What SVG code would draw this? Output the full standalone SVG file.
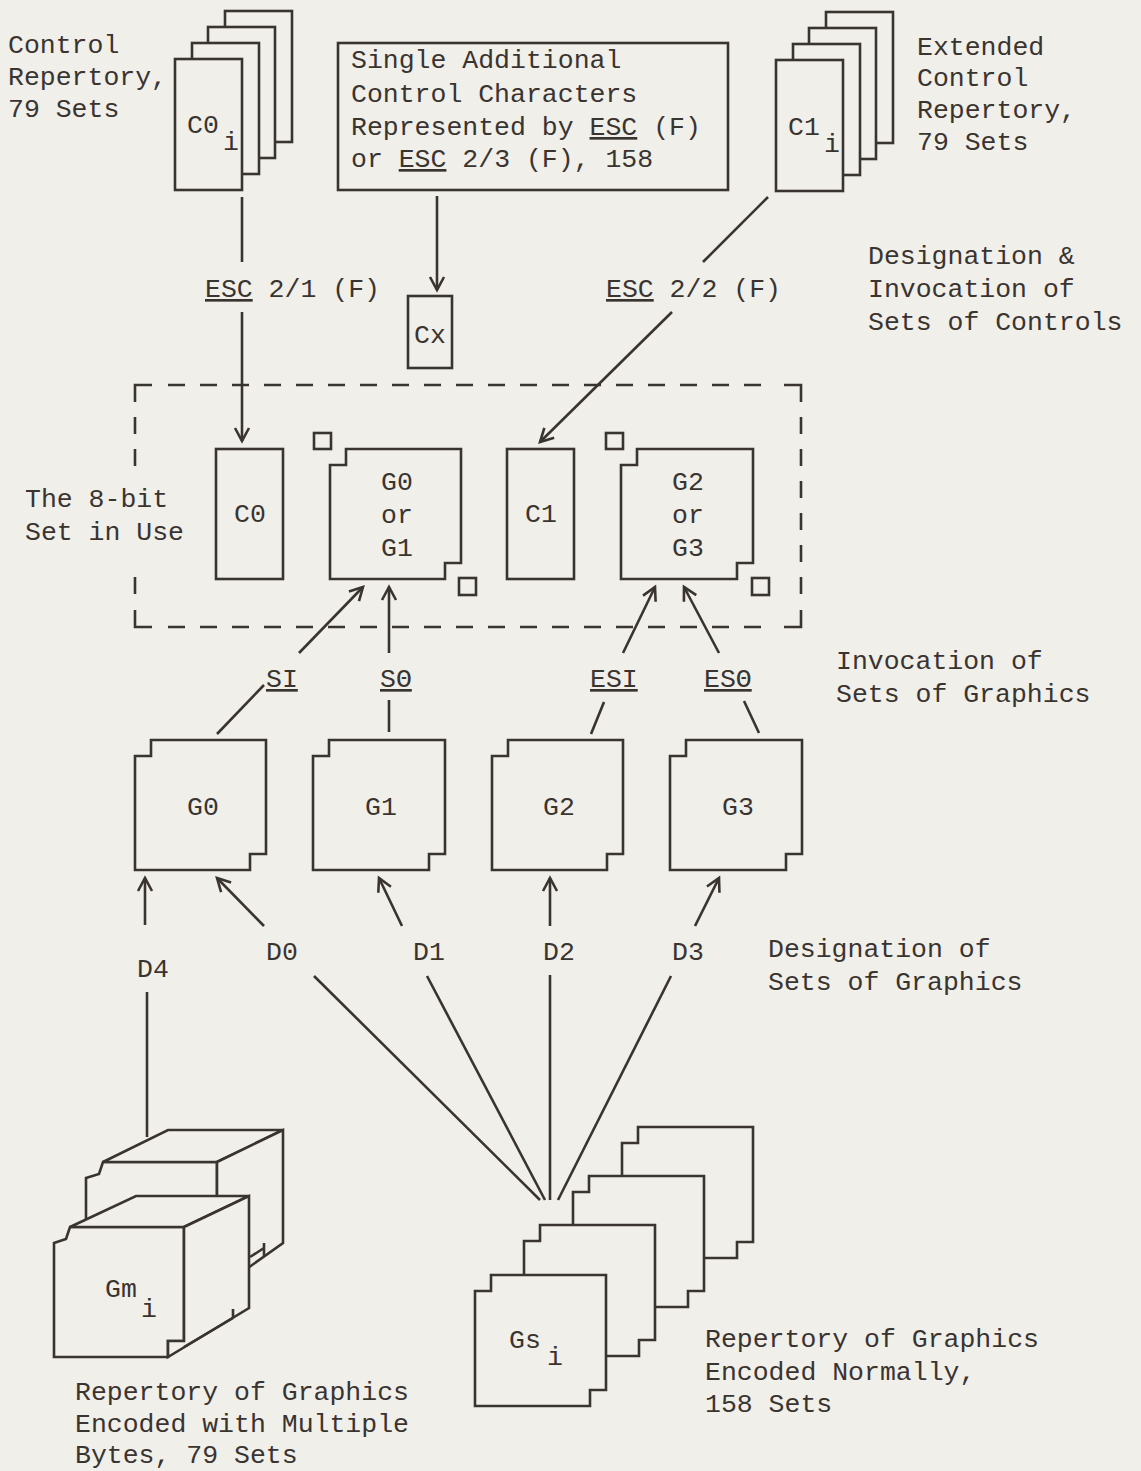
<svg xmlns="http://www.w3.org/2000/svg" width="1141" height="1471" viewBox="0 0 1141 1471">
<style>
.t{font-family:"Liberation Mono","DejaVu Sans Mono",monospace;font-size:26.5px;fill:#3a3431}
.m{text-anchor:middle}
.u{text-decoration:underline}
.b{fill:#f0efe9;stroke:#3a3431;stroke-width:2.6;stroke-linejoin:miter}
.l{fill:none;stroke:#3a3431;stroke-width:2.6}
.d{fill:none;stroke:#3a3431;stroke-width:2.6;stroke-dasharray:17 15}
</style>
<defs>
<marker id="ah" markerUnits="userSpaceOnUse" markerWidth="20" markerHeight="20" refX="13" refY="8" orient="auto" overflow="visible">
<path d="M0,1 L13,8 L0,15" fill="none" stroke="#3a3431" stroke-width="2.6"/>
</marker>
</defs>
<rect width="1141" height="1471" fill="#f0efe9"/>

<g id="c0-repertory">
<rect class="b" x="225" y="11" width="67" height="131"/>
<rect class="b" x="208" y="27" width="67" height="131"/>
<rect class="b" x="192" y="43" width="67" height="131"/>
<rect class="b" x="175" y="59" width="67" height="131"/>
<text class="t" x="187" y="133">C0<tspan x="223" y="150">i</tspan></text>
<text class="t" x="8" y="53">Control</text>
<text class="t" x="8" y="85">Repertory,</text>
<text class="t" x="8" y="117">79 Sets</text>
</g>

<g id="single-additional">
<rect class="b" x="338" y="43" width="390" height="147"/>
<text class="t" x="351" y="68">Single Additional</text>
<text class="t" x="351" y="102">Control Characters</text>
<text class="t" x="351" y="135">Represented by <tspan class="u">ESC</tspan> (F)</text>
<text class="t" x="351" y="167">or <tspan class="u">ESC</tspan> 2/3 (F), 158</text>
</g>

<g id="c1-repertory">
<rect class="b" x="826" y="12" width="67" height="131"/>
<rect class="b" x="809" y="28" width="67" height="131"/>
<rect class="b" x="793" y="44" width="67" height="131"/>
<rect class="b" x="776" y="60" width="67" height="131"/>
<text class="t" x="788" y="135">C1<tspan x="824" y="152">i</tspan></text>
<text class="t" x="917" y="55">Extended</text>
<text class="t" x="917" y="86">Control</text>
<text class="t" x="917" y="118">Repertory,</text>
<text class="t" x="917" y="150">79 Sets</text>
</g>

<g id="label-controls">
<text class="t" x="868" y="264">Designation &amp;</text>
<text class="t" x="868" y="297">Invocation of</text>
<text class="t" x="868" y="330">Sets of Controls</text>
</g>

<g id="cx">
<rect class="b" x="408" y="296" width="44" height="72"/>
<text class="t m" x="430" y="343">Cx</text>
</g>

<g id="set-in-use">
<path class="l" d="M135,402 V385 H152 M784,385 H801 V402 M801,610 V627 H784 M152,627 H135 V610"/>
<path class="d" d="M168,385 H772 M801,417 V598 M168,627 H772 M135,417 V470 M135,577 V598"/>
<text class="t" x="25" y="507">The 8-bit</text>
<text class="t" x="25" y="540">Set in Use</text>
</g>

<g id="c0">
<rect class="b" x="216" y="449" width="67" height="130"/>
<text class="t m" x="250" y="522">C0</text>
</g>

<g id="g0-or-g1">
<path class="b" d="M346,449 H461 V563 H445 V579 H330 V465 H346 Z"/>
<rect class="b" x="314" y="433" width="17" height="16"/>
<rect class="b" x="459" y="578" width="17" height="17"/>
<text class="t m" x="397" y="490">G0</text>
<text class="t m" x="397" y="523">or</text>
<text class="t m" x="397" y="556">G1</text>
</g>

<g id="c1">
<rect class="b" x="507" y="449" width="67" height="130"/>
<text class="t m" x="541" y="522">C1</text>
</g>

<g id="g2-or-g3">
<path class="b" d="M637,449 H753 V563 H737 V579 H621 V465 H637 Z"/>
<rect class="b" x="606" y="433" width="17" height="16"/>
<rect class="b" x="752" y="578" width="17" height="17"/>
<text class="t m" x="688" y="490">G2</text>
<text class="t m" x="688" y="523">or</text>
<text class="t m" x="688" y="556">G3</text>
</g>

<g id="label-invocation">
<text class="t" x="836" y="669">Invocation of</text>
<text class="t" x="836" y="702">Sets of Graphics</text>
</g>

<g id="g0">
<path class="b" d="M151,740 H266 V854 H250 V870 H135 V756 H151 Z"/>
<text class="t m" x="203" y="815">G0</text>
</g>
<g id="g1">
<path class="b" d="M329,740 H445 V854 H429 V870 H313 V756 H329 Z"/>
<text class="t m" x="381" y="815">G1</text>
</g>
<g id="g2">
<path class="b" d="M508,740 H623 V854 H607 V870 H492 V756 H508 Z"/>
<text class="t m" x="559" y="815">G2</text>
</g>
<g id="g3">
<path class="b" d="M686,740 H802 V854 H786 V870 H670 V756 H686 Z"/>
<text class="t m" x="738" y="815">G3</text>
</g>

<g id="label-designation">
<text class="t" x="768" y="957">Designation of</text>
<text class="t" x="768" y="990">Sets of Graphics</text>
</g>

<g id="gm-repertory">
<path class="b" d="M103,1162 H217 V1290 H86 V1178 L99,1174 Z"/>
<path class="b" d="M103,1162 L168,1130 H283 L217,1162 Z"/>
<path class="b" d="M217,1162 L283,1130 V1243 L217,1290 Z"/>
<path class="l" d="M250,1257 L264,1248 M264,1243 V1256"/>
<path class="b" d="M70,1227 H184 V1341 H168 V1357 H54 V1243 L66,1239 Z"/>
<path class="b" d="M70,1227 L136,1196 H249 L184,1227 Z"/>
<path class="b" d="M184,1227 L249,1196 V1308 L168,1357 V1341 H184 Z"/>
<path class="l" d="M184,1347 L233,1318 M233,1309 V1318"/>
<text class="t" x="105" y="1297">Gm<tspan x="141" y="1317">i</tspan></text>
<text class="t" x="75" y="1400">Repertory of Graphics</text>
<text class="t" x="75" y="1432">Encoded with Multiple</text>
<text class="t" x="75" y="1463">Bytes, 79 Sets</text>
</g>

<g id="gs-repertory">
<path class="b" d="M638,1127 H753 V1242 H737 V1258 H622 V1143 H638 Z"/>
<path class="b" d="M589,1176 H704 V1291 H688 V1307 H573 V1192 H589 Z"/>
<path class="b" d="M540,1225 H655 V1340 H639 V1356 H524 V1241 H540 Z"/>
<path class="b" d="M491,1275 H606 V1390 H590 V1406 H475 V1291 H491 Z"/>
<text class="t" x="509" y="1348">Gs<tspan x="547" y="1365">i</tspan></text>
<text class="t" x="705" y="1347">Repertory of Graphics</text>
<text class="t" x="705" y="1380">Encoded Normally,</text>
<text class="t" x="705" y="1412">158 Sets</text>
</g>

<g id="connectors">
<path class="l" d="M242,197 V262"/>
<path class="l" d="M242,312 V441" marker-end="url(#ah)"/>
<text class="t" x="205" y="297"><tspan class="u">ESC</tspan> 2/1 (F)</text>
<path class="l" d="M437,196 V290" marker-end="url(#ah)"/>
<path class="l" d="M768,197 L703,262"/>
<path class="l" d="M672,312 L540,442" marker-end="url(#ah)"/>
<text class="t" x="606" y="297"><tspan class="u">ESC</tspan> 2/2 (F)</text>

<path class="l" d="M217,734 L264,685"/>
<path class="l" d="M299,653 L363,587" marker-end="url(#ah)"/>
<text class="t u" x="266" y="687">SI</text>
<path class="l" d="M389,700 V732"/>
<path class="l" d="M389,653 V587" marker-end="url(#ah)"/>
<text class="t u" x="380" y="687">SΘ</text>
<path class="l" d="M604,702 L591,734"/>
<path class="l" d="M623,653 L655,587" marker-end="url(#ah)"/>
<text class="t u" x="590" y="687">ESI</text>
<path class="l" d="M744,701 L759,733"/>
<path class="l" d="M719,653 L684,587" marker-end="url(#ah)"/>
<text class="t u" x="704" y="687">ESΘ</text>

<path class="l" d="M147,1137 V992"/>
<path class="l" d="M145,925 V878" marker-end="url(#ah)"/>
<text class="t" x="137" y="977">D4</text>
<path class="l" d="M264,926 L217,878" marker-end="url(#ah)"/>
<path class="l" d="M314,976 L540,1200"/>
<text class="t" x="266" y="960">D0</text>
<path class="l" d="M402,926 L379,878" marker-end="url(#ah)"/>
<path class="l" d="M427,976 L545,1200"/>
<text class="t" x="413" y="960">D1</text>
<path class="l" d="M550,926 V878" marker-end="url(#ah)"/>
<path class="l" d="M550,975 V1200"/>
<text class="t" x="543" y="960">D2</text>
<path class="l" d="M695,926 L719,878" marker-end="url(#ah)"/>
<path class="l" d="M671,976 L558,1200"/>
<text class="t" x="672" y="960">D3</text>
</g>
</svg>
